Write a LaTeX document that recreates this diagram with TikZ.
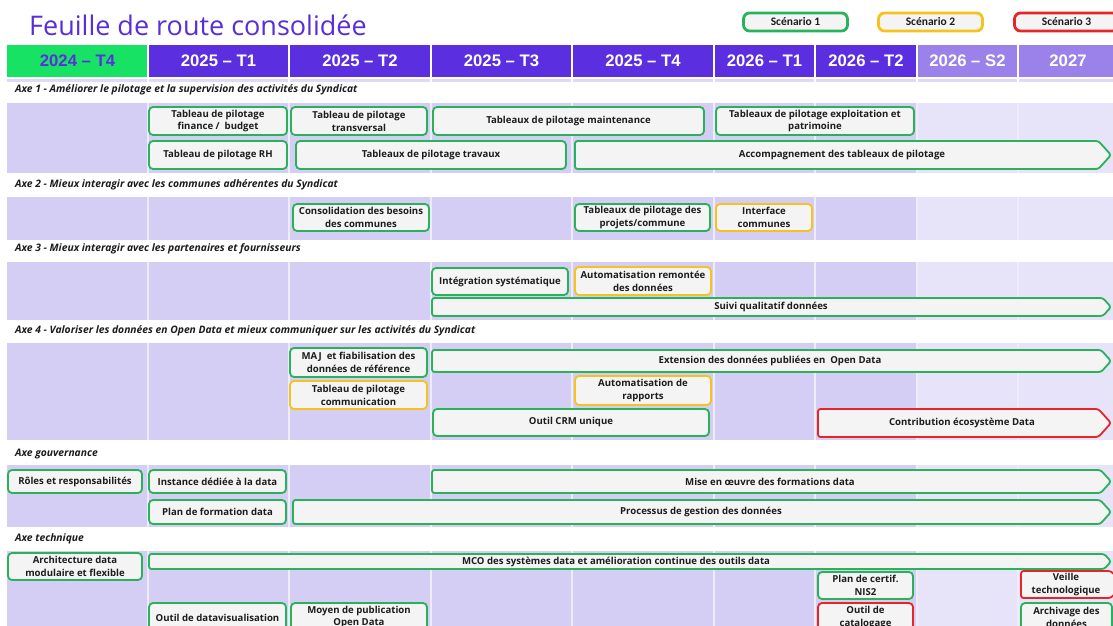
\documentclass[tikz,border=0pt]{standalone}
\usepackage{fontspec}
\setmainfont{Open Sans}
\newfontfamily\hdrfont{Liberation Sans}
\newfontfamily\legfont{Carlito}
\definecolor{ttl}{RGB}{88,46,218}
\definecolor{hpurple}{RGB}{91,46,224}
\definecolor{hlight}{RGB}{155,130,235}
\definecolor{hgreen}{RGB}{24,226,100}
\definecolor{band}{RGB}{212,206,245}
\definecolor{bandl}{RGB}{231,228,250}
\definecolor{strip}{RGB}{222,218,248}
\definecolor{gbord}{RGB}{40,178,90}
\definecolor{ybord}{RGB}{246,194,30}
\definecolor{rbord}{RGB}{232,36,40}
\definecolor{boxfill}{RGB}{244,244,244}
\definecolor{txt}{RGB}{28,28,28}
\newcommand\mybox[7]{%
  \node[box, draw=#2, minimum width={#5-#3}, minimum height={#6-#4}] (#1) at ({(#3+#5)/2},{(#4+#6)/2}) {#7};}
\newcommand\myarrow[8]{%
  \draw[boxline, draw=#2, fill=boxfill, rounded corners=2.5pt] (#5,{(#4+#6)/2}) -- ({#5-0.45*(#6-#4)},#4) -- (#3,#4) -- (#3,#6) -- ({#5-0.45*(#6-#4)},#6) -- cycle;
  \node[boxtext] (#1) at (#8,{(#4+#6)/2}) {#7};}
\begin{document}
\begin{tikzpicture}[x=1pt,y=-1pt,
  boxline/.style={line width=1.8pt},
  boxtext/.style={font=\fontsize{9.6}{12.8}\selectfont\bfseries, text=txt, align=center, inner sep=0pt},
  box/.style={boxline, boxtext, fill=boxfill, rounded corners=4pt},
  hdr/.style={font=\hdrfont\bfseries\fontsize{16.7}{19}\selectfont, text=white},
  axe/.style={font=\fontsize{10.3}{12}\selectfont\bfseries\itshape, text=txt, anchor=west, inner sep=0pt},
  leg/.style={line width=2.8pt, fill=boxfill, rounded corners=6pt, minimum width=104pt, minimum height=18pt, font=\legfont\bfseries\fontsize{11.5}{13}\selectfont, text=txt, inner sep=0pt}]
\useasboundingbox (0,0) rectangle (1113,626);
\fill[white] (0,0) rectangle (1113,626);
% title
\node[anchor=west, inner sep=0pt, font=\fontsize{27}{30}\selectfont, text=ttl] (title) at (29,25) {Feuille de route consolidée};
% legend
\node[leg, draw=gbord] (s1) at (795.5,22) {Scénario 1};
\node[leg, draw=ybord] (s2) at (930.5,22) {Scénario 2};
\node[leg, draw=rbord] (s3) at (1066.5,22) {Scénario 3};
% header
\fill[hgreen] (7,45) rectangle (148,77);
\fill[hpurple] (148,45) rectangle (917,77);
\fill[hlight] (917,45) rectangle (1113,77);
\fill[strip] (7,79) rectangle (1113,82);
% bands
\foreach \t/\b in {103/173,197/240,262/320,343/440,465/527,551/640}{
  \fill[band] (7,\t) rectangle (917,\b);
  \fill[bandl] (917,\t) rectangle (1113,\b);
}
\foreach \x in {148,289,431,572,714,815,917,1018}{
  \draw[white, line width=1.5pt] (\x,45) -- (\x,82);
  \foreach \t/\b in {103/173,197/240,262/320,343/440,465/527,551/640}{
    \draw[white!60!band, line width=1.2pt] (\x,\t) -- (\x,\b);
  }
}
\node[hdr, text=hpurple] (h1) at (77.5,61) {2024 – T4};
\node[hdr] (h2) at (218.5,61) {2025 – T1};
\node[hdr] (h3) at (360,61) {2025 – T2};
\node[hdr] (h4) at (501.5,61) {2025 – T3};
\node[hdr] (h5) at (643,61) {2025 – T4};
\node[hdr] (h6) at (764.5,61) {2026 – T1};
\node[hdr] (h7) at (866,61) {2026 – T2};
\node[hdr] (h8) at (967.5,61) {2026 – S2};
\node[hdr] (h9) at (1068,61) {2027};
% axe labels
\node[axe] (ax1) at (15,90) {Axe 1 - Améliorer le pilotage et la supervision des activités du Syndicat};
\node[axe] (ax2) at (15,185) {Axe 2 - Mieux interagir avec les communes adhérentes du Syndicat};
\node[axe] (ax3) at (15,249) {Axe 3 - Mieux interagir avec les partenaires et fournisseurs};
\node[axe] (ax4) at (15,331) {Axe 4 - Valoriser les données en Open Data et mieux communiquer sur les activités du Syndicat};
\node[axe] (ax5) at (15,454) {Axe gouvernance};
\node[axe] (ax6) at (15,539) {Axe technique};
% Axe 1
\mybox{b1}{gbord}{149}{107}{287}{135}{Tableau de pilotage\\finance /\ \ budget}
\mybox{b2}{gbord}{291}{107}{427}{135}{Tableau de pilotage\\transversal}
\mybox{b3}{gbord}{433}{107}{704}{135}{Tableaux de pilotage maintenance}
\mybox{b4}{gbord}{716}{107}{914}{135}{Tableaux de pilotage exploitation et\\patrimoine}
\mybox{b5}{gbord}{149}{141}{287}{169}{Tableau de pilotage RH}
\mybox{b6}{gbord}{296}{141}{566}{169}{Tableaux de pilotage travaux}
\myarrow{a1}{gbord}{575}{141}{1111}{169}{Accompagnement des tableaux de pilotage}{842}
% Axe 2
\mybox{c1}{gbord}{293}{204}{429}{231}{Consolidation des besoins\\des communes}
\mybox{c2}{gbord}{575}{204}{710}{231}{Tableaux de pilotage des\\projets/commune}
\mybox{c3}{ybord}{716}{204}{812}{231}{Interface\\communes}
% Axe 3
\mybox{d1}{gbord}{432}{268}{568}{295}{Intégration systématique}
\mybox{d2}{ybord}{575}{267}{711}{295}{Automatisation remontée\\des données}
\myarrow{a2}{gbord}{432}{298}{1111}{316}{Suivi qualitatif données}{771}
% Axe 4
\mybox{e1}{gbord}{290}{348}{427}{377}{MAJ\ \ et fiabilisation des\\données de référence}
\myarrow{a3}{gbord}{432}{350}{1111}{372}{Extension des données publiées en\ \ Open Data}{770}
\mybox{e2}{ybord}{290}{381}{427}{409}{Tableau de pilotage\\communication}
\mybox{e3}{ybord}{575}{376}{711}{405}{Automatisation de\\rapports}
\mybox{e4}{gbord}{433}{409}{709}{436}{Outil CRM unique}
\myarrow{a4}{rbord}{818}{409}{1111}{437}{Contribution écosystème Data}{962}
% gouvernance
\mybox{f1}{gbord}{8}{470}{142}{493}{Rôles et responsabilités}
\mybox{f2}{gbord}{149}{470}{286}{493}{Instance dédiée à la data}
\myarrow{a5}{gbord}{432}{470}{1111}{493}{Mise en œuvre des formations data}{770}
\mybox{f3}{gbord}{149}{500}{286}{524}{Plan de formation data}
\myarrow{a6}{gbord}{293}{500}{1111}{524}{Processus de gestion des données}{701}
% technique
\mybox{g1}{gbord}{8}{553}{142}{580}{Architecture data\\modulaire et flexible}
\myarrow{a7}{gbord}{149}{554}{1111}{569}{MCO des systèmes data et amélioration continue des outils data}{616}
\mybox{g2}{gbord}{818}{572}{913}{599}{Plan de certif.\\NIS2}
\myarrow{a8}{rbord}{1021}{571}{1123}{598}{Veille\\technologique}{1066}
\mybox{g3}{gbord}{149}{603}{286}{632}{Outil de datavisualisation}
\mybox{g4}{gbord}{291}{603}{427}{631}{Moyen de publication\\Open Data}
\mybox{g5}{rbord}{818}{603}{913}{632}{Outil de\\catalogage}
\mybox{g6}{gbord}{1021}{603}{1112}{632}{Archivage des\\données}
\end{tikzpicture}
\end{document}
